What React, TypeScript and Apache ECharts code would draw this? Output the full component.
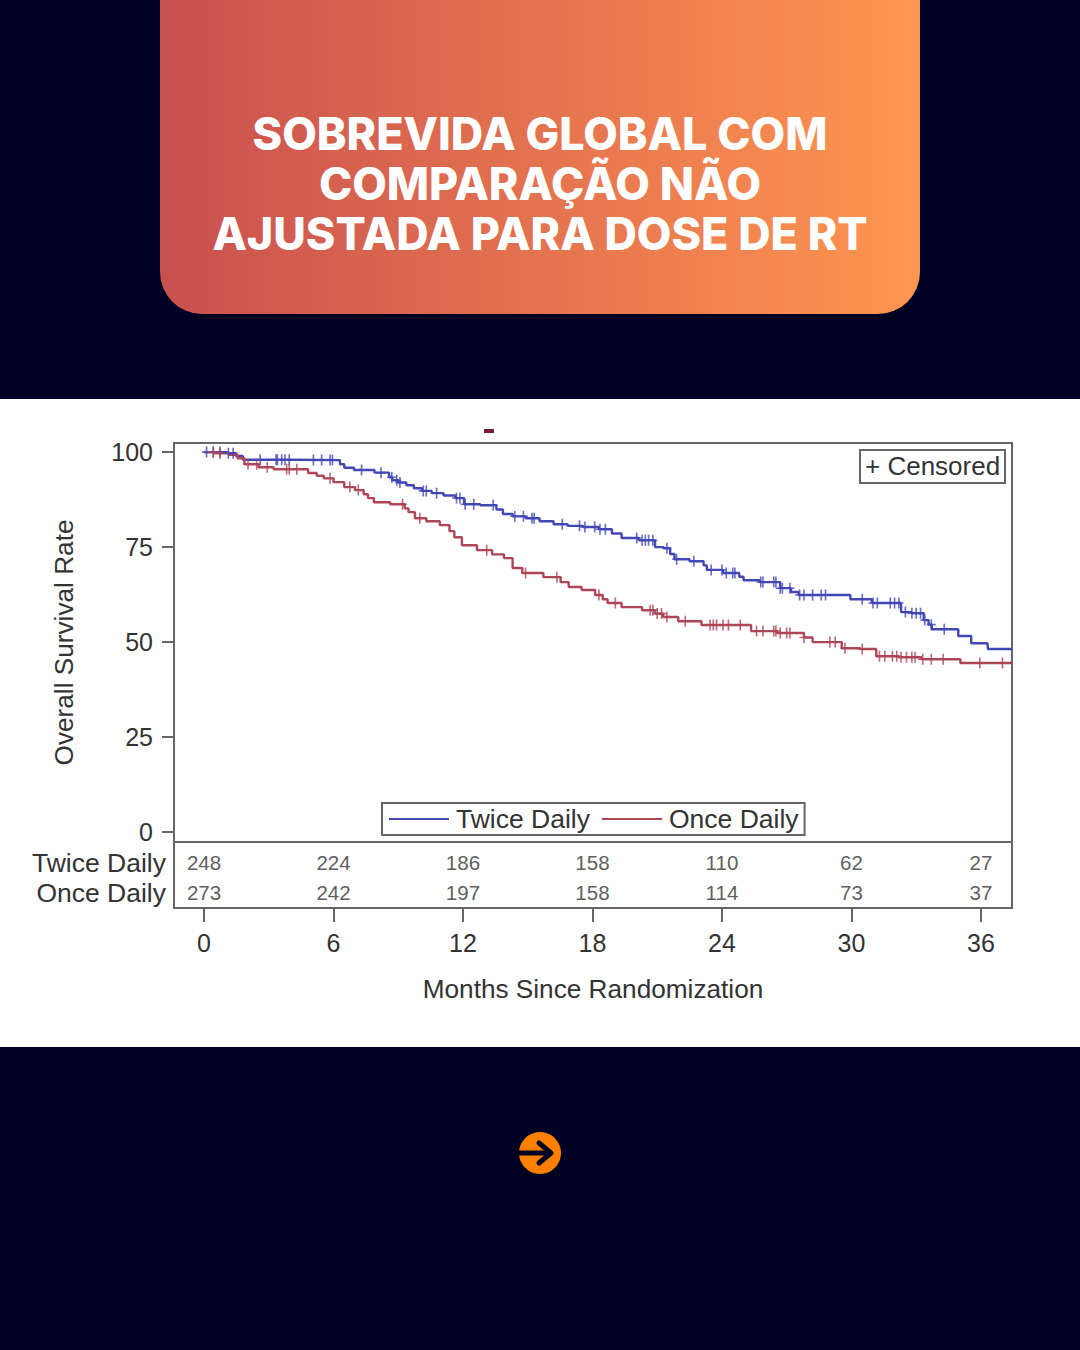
import React, { useEffect, useRef } from "react";
import * as echarts from "echarts";

const titleLines = ["SOBREVIDA GLOBAL COM", "COMPARAÇÃO NÃO", "AJUSTADA PARA DOSE DE RT"];
const monthTicks = [0, 6, 12, 18, 24, 30, 36];
const survivalTicks = [0, 25, 50, 75, 100];
const rowNames = ["Twice Daily", "Once Daily"];
const twiceAtRisk = [248, 224, 186, 158, 110, 62, 27];
const onceAtRisk = [273, 242, 197, 158, 114, 73, 37];

const twiceCurve: number[][] = [
  [0, 100], [0.9, 100], [1.35, 99.7], [1.6, 99], [2, 98], [6.2, 97.9], [6.4, 96.8], [6.6, 95.9], [7.3, 95.3], [8.5, 94.6],
  [8.65, 93.4], [8.8, 92.6], [9.2, 92], [9.55, 91.3], [9.9, 90.5], [10.3, 89.8], [10.8, 89.2], [11.4, 88.6], [11.9, 87.9], [12.2, 86.3], [13.4, 86],
  [13.7, 84.9], [14, 83.7], [14.6, 83.1], [15.2, 82.6], [15.9, 81.8], [16.5, 81], [17.2, 80.6], [17.9, 80.3], [18.7, 79.7], [19.1, 78.6], [19.6, 77.4], [20.7, 76.8],
  [21.1, 75], [21.5, 74.7], [21.7, 73.2], [21.9, 71.8], [23.1, 71.3], [23.2, 70.2], [23.4, 69], [24.7, 68.2], [24.9, 67.2], [25.1, 66.3],
  [26.4, 65.8], [27, 64.2], [27.4, 63.2], [27.7, 62.4], [29.9, 62.4], [30, 61.3], [30.9, 61.3], [31, 60.3], [32.2, 60.3],
  [32.4, 57.9], [33.2, 57.6], [33.5, 55.8], [33.65, 54.6], [33.8, 53.4], [34.9, 53.4], [35, 51.6], [35.5, 51.6], [35.6, 49.7],
  [36.3, 49.7], [36.35, 48.2], [37.44, 48.2],
];
const onceCurve: number[][] = [
  [0, 100], [1, 99.7], [1.35, 99.3], [1.75, 98.4], [2, 96.8], [3.06, 96], [3.4, 95.5], [4.6, 95.5], [5.05, 94.5], [5.4, 93.8], [5.7, 93.1],
  [6.3, 92.1], [6.7, 90.8], [7.3, 90], [7.5, 88.9], [7.7, 87.9], [8.05, 86.8], [9.2, 86.3], [9.4, 85.2], [9.55, 84.2], [10, 82.6],
  [10.6, 81.8], [11.25, 80.8], [11.5, 79.2], [11.7, 77.6], [12.2, 75.5], [13.1, 74.2], [13.6, 73.1], [14.2, 72.1], [14.4, 69.5],
  [15.1, 68.2], [16.35, 67.1], [16.7, 65.8], [17.1, 64.5], [17.9, 63.7], [18.35, 62.4], [18.6, 61.3], [18.8, 60.3],
  [19.9, 59.2], [20.7, 58.4], [21.1, 57.5], [21.45, 56.6], [22.5, 55.5], [23.6, 54.5], [25.2, 54.5], [25.5, 52.9], [27.6, 52.4],
  [28, 51.2], [28.4, 50], [29.4, 50], [29.7, 48.4], [31.1, 48.2], [31.2, 46.3], [33.2, 46], [33.3, 45.5], [35, 45.5], [35.1, 44.5],
  [37.44, 44.5],
];
const twiceCensored = [
  0.12, 0.43, 0.74, 1.13, 1.35, 2.6, 3.34, 3.4, 3.6, 3.75, 3.95, 5.07, 5.45, 5.84, 5.95, 7.3, 8.2, 8.7, 8.93, 9.08, 10.16, 10.3,
  10.78, 11.7, 11.86, 12.1, 12.5, 13.4, 14.4, 14.8, 15.2, 15.3, 16.6, 17.4, 17.65, 18.1, 18.35, 18.6, 20.05, 20.3, 20.45, 20.6,
  20.8, 21.45, 21.9, 22.7, 23.5, 24, 24.2, 24.5, 24.6, 25.8, 25.9, 26.4, 26.5, 26.7, 26.8, 27.15, 27.6, 27.8, 28.2, 28.6, 28.8,
  30.5, 31, 31.2, 31.8, 32, 32.2, 32.5, 32.8, 33, 33.2, 33.4, 33.7, 34.3,
];
const onceCensored = [
  0.43, 0.74, 2.04, 2.44, 2.93, 3.83, 3.95, 4.3, 5.84, 6.76, 7.15, 9.2, 10, 13.1, 14.9, 16.35, 18.3, 19.06, 20.67, 20.8, 21, 21.2,
  21.45, 22.3, 23.45, 23.6, 23.75, 24.05, 24.3, 24.85, 25.6, 25.9, 26.4, 26.5, 26.7, 27, 27.15, 27.8, 29, 29.25, 29.7, 30.5, 31.3,
  31.55, 31.9, 32.1, 32.3, 32.55, 32.8, 32.95, 33.3, 33.7, 34.25, 35.95, 37,
];

const NAVY = "#000022";
const BLUE = "#4347b5";
const RED = "#ad4656";
const INK = "#333333";
const FRAME = "#666666";
const FONT = "Liberation Sans";
const X_MIN = -1.39;
const X_MAX = 37.44;
const PLUS = "path://M4.1 0H5.9V4.3H10V5.7H5.9V10H4.1V5.7H0V4.3H4.1Z";

// A censored mark sits on the drawn curve (step "middle" drops halfway between two points).
const survivalAt = (curve: number[][], m: number) => {
  let s = curve[0][1];
  for (let i = 1; i < curve.length; i++) {
    if ((curve[i - 1][0] + curve[i][0]) / 2 <= m) s = curve[i][1];
  }
  return s;
};

export default function App() {
  const ref = useRef<HTMLDivElement>(null);
  useEffect(() => {
    const chart = echarts.init(ref.current!, null, { renderer: "svg", width: 1080, height: 1350 });
    const line = (name: string, data: number[][], color: string) => ({
      name, type: "line", step: "middle", data, symbol: "none", xAxisIndex: 0, yAxisIndex: 0,
      lineStyle: { color, width: 2.4 }, itemStyle: { color }, z: 3,
    });
    const marks = (months: number[], curve: number[][], color: string) => ({
      type: "scatter", data: months.map((m) => [m, survivalAt(curve, m)]), symbol: PLUS, symbolSize: [9, 11],
      xAxisIndex: 0, yAxisIndex: 0, itemStyle: { color }, z: 4, silent: true,
    });
    const risk = (values: number[], row: number) => ({
      type: "scatter", xAxisIndex: 1, yAxisIndex: 1, symbolSize: 0,
      data: values.map((v, i) => ({ value: [monthTicks[i], row], label: { formatter: String(v) } })),
      label: { show: true, position: "inside", offset: [0, -1], fontFamily: FONT, fontSize: 20.5, color: INK },
    });
    chart.setOption({
      animation: false,
      backgroundColor: NAVY,
      textStyle: { fontFamily: FONT },
      grid: [
        { left: 174, top: 443, width: 838, height: 399, show: true, borderColor: FRAME, borderWidth: 2, backgroundColor: "transparent" },
        { left: 174, top: 842, width: 838, height: 66, show: true, borderColor: FRAME, borderWidth: 2, backgroundColor: "transparent" },
      ],
      xAxis: [
        { type: "value", gridIndex: 0, min: X_MIN, max: X_MAX, show: false },
        {
          type: "value", gridIndex: 1, min: X_MIN, max: X_MAX, splitLine: { show: false },
          axisLine: { show: false, onZero: false },
          axisTick: { length: 14, lineStyle: { color: FRAME, width: 2 }, customValues: monthTicks },
          axisLabel: { customValues: monthTicks, margin: 22, fontFamily: FONT, fontSize: 25, color: INK },
          name: "Months Since Randomization", nameLocation: "middle", nameGap: 68,
          nameTextStyle: { fontFamily: FONT, fontSize: 26.2, color: INK },
        },
      ],
      yAxis: [
        {
          type: "value", gridIndex: 0, min: -2.6, max: 102.4, splitLine: { show: false },
          axisLine: { show: false, onZero: false },
          axisTick: { length: 12, lineStyle: { color: FRAME, width: 2 }, customValues: survivalTicks },
          axisLabel: { customValues: survivalTicks, margin: 21, fontFamily: FONT, fontSize: 25, color: INK },
          name: "Overall Survival Rate", nameLocation: "middle", nameGap: 97, nameRotate: 90,
          nameTextStyle: { fontFamily: FONT, fontSize: 26.2, color: INK },
        },
        {
          type: "value", gridIndex: 1, min: -0.7, max: 1.5, inverse: true, splitLine: { show: false },
          axisLine: { show: false, onZero: false }, axisTick: { show: false },
          axisLabel: {
            customValues: [0, 1], margin: 8, fontFamily: FONT, fontSize: 26.5, color: INK,
            formatter: (v: number) => rowNames[v] ?? "",
          },
        },
      ],
      legend: {
        data: ["Twice Daily", "Once Daily"], left: 382, top: 803, orient: "horizontal", icon: "rect",
        padding: [2, 6, 2, 7], itemWidth: 60, itemHeight: 2, itemGap: 12,
        borderColor: FRAME, borderWidth: 2, backgroundColor: "#ffffff",
        textStyle: { fontFamily: FONT, fontSize: 26.5, color: INK, padding: [0, 0, 0, 2], lineHeight: 28 },
      },
      series: [
        line("Twice Daily", twiceCurve, BLUE),
        line("Once Daily", onceCurve, RED),
        marks(twiceCensored, twiceCurve, BLUE),
        marks(onceCensored, onceCurve, RED),
        risk(twiceAtRisk, 0),
        risk(onceAtRisk, 1),
      ],
      graphic: {
        elements: [
          { type: "rect", z: -10, shape: { x: 0, y: 399, width: 1080, height: 648 }, style: { fill: "#fefefe" } },
          {
            type: "rect", z: 1, shape: { x: 160, y: -50, width: 760, height: 364, r: 42 },
            style: { fill: new echarts.graphic.LinearGradient(0, 0, 1, 0, [{ offset: 0, color: "#c8504f" }, { offset: 1, color: "#ff9650" }]) },
          },
          {
            type: "text", z: 2, x: 540, y: 184,
            style: { text: titleLines.join("\n"), fill: "#ffffff", font: "800 44.8px Inter", lineHeight: 50, textAlign: "center", textVerticalAlign: "middle" },
          },
          { type: "rect", z: 2, shape: { x: 484, y: 429, width: 10, height: 4 }, style: { fill: "#7a1a3a" } },
          { type: "rect", z: 5, shape: { x: 860, y: 450, width: 145, height: 33 }, style: { fill: "#ffffff", stroke: FRAME, lineWidth: 2 } },
          { type: "text", z: 6, x: 865, y: 466, style: { text: "+ Censored", fill: INK, font: `26px "${FONT}"`, textVerticalAlign: "middle" } },
          { type: "circle", z: 2, shape: { cx: 540, cy: 1153, r: 21 }, style: { fill: "#ff8000" } },
          { type: "line", z: 3, shape: { x1: 519, y1: 1153, x2: 551, y2: 1153 }, style: { stroke: NAVY, lineWidth: 5 } },
          { type: "polyline", z: 3, shape: { points: [[539, 1143], [551, 1153], [539, 1163]] }, style: { stroke: NAVY, lineWidth: 5, lineCap: "round", lineJoin: "round", fill: "none" } },
        ],
      },
    });
    return () => chart.dispose();
  }, []);
  return <div ref={ref} style={{ position: "absolute", left: 0, top: 0, width: 1080, height: 1350 }} />;
}
